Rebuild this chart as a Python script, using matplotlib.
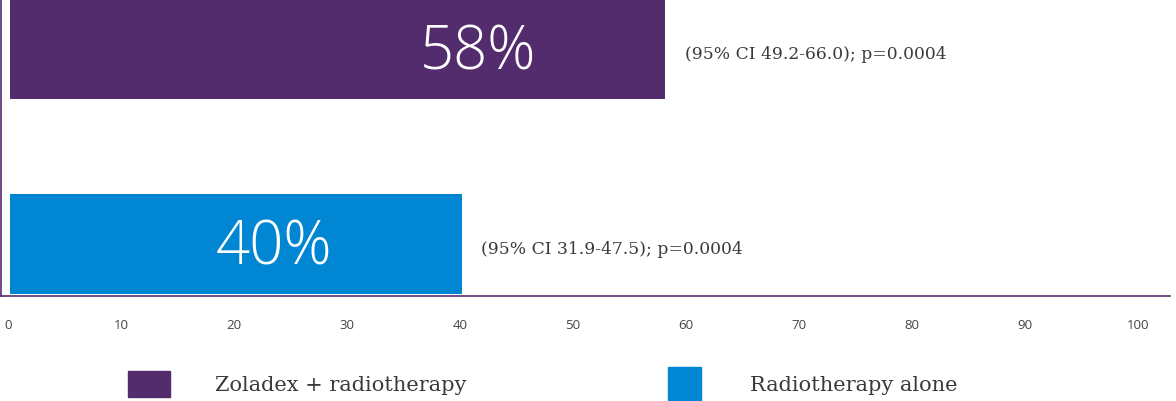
import matplotlib.pyplot as plt
from matplotlib.patches import Rectangle

# data
groups = ['Zoladex + radiotherapy', 'Radiotherapy alone']
values = [58, 40]
bar_labels = ['58%', '40%']
ci_labels = ['(95% CI 49.2-66.0); p=0.0004', '(95% CI 31.9-47.5); p=0.0004']
colors = ['#532C6E', '#0086D3']
xticks = [0, 10, 20, 30, 40, 50, 60, 70, 80, 90, 100]

W, H = 1176, 402
fig = plt.figure(figsize=(W / 100, H / 100), dpi=100)
ax = fig.add_axes([1 / W, (H - 297) / H, 1169 / W, 297 / H])

ypos = [1, 0]
ax.barh(ypos, values, height=100 / 195, color=colors, left=0.18)

for y, v, lab, ci in zip(ypos, values, bar_labels, ci_labels):
    ax.text(v - 11.3, y - 0.02, lab, ha='right', va='center', color='white',
            fontsize=43, family='Open Sans', fontweight='light')
    ax.text(v + 1.9, y - 0.022, ci, ha='left', va='center', color='#3a3a3a',
            fontsize=12.3, family='DejaVu Serif')

ax.set_xlim(-0.62, 102.83)
ax.set_ylim(-0.267, 1.256)
ax.set_xticks(xticks)
ax.set_yticks([])
ax.tick_params(axis='x', length=0, pad=16, labelsize=9.5, labelcolor='#444444')
for lbl in ax.get_xticklabels():
    lbl.set_family('Open Sans')
for s in ['top', 'right']:
    ax.spines[s].set_visible(False)
ax.spines['left'].set_color('#532C6E')
ax.spines['bottom'].set_color('#532C6E')
ax.spines['left'].set_linewidth(1.2)
ax.spines['bottom'].set_linewidth(1.2)

# legend
leg = [(128, 372, 42, 26, 215), (668, 368, 33, 33, 750)]
for (x, y, w, h, tx), c, g in zip(leg, colors, groups):
    fig.patches.append(Rectangle((x / W, 1 - (y + h) / H), w / W, h / H,
                                 transform=fig.transFigure, color=c))
    fig.text(tx / W, 1 - 386 / H, g, ha='left', va='center', color='#3a3a3a',
             fontsize=15, family='DejaVu Serif')

fig.savefig('out.png', dpi=100)
